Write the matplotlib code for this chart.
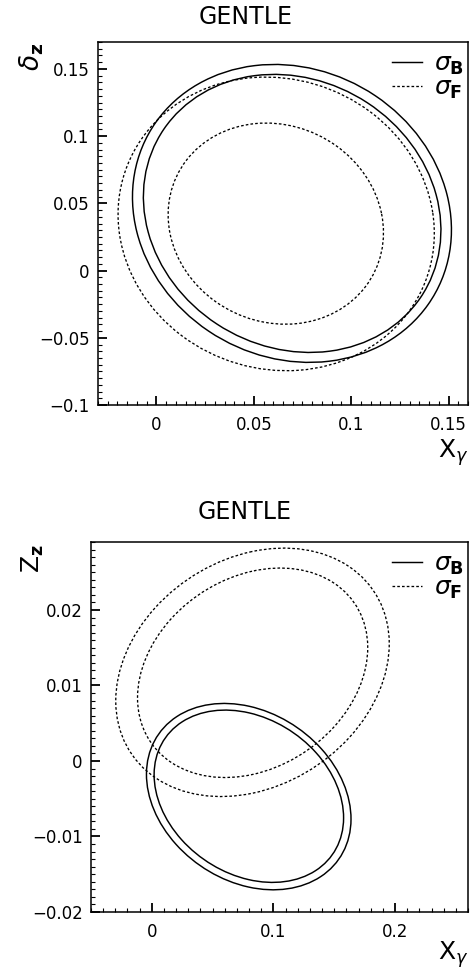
import numpy as np
import matplotlib
matplotlib.use("Agg")
import matplotlib.pyplot as plt
from matplotlib.patches import Ellipse
from matplotlib.lines import Line2D
from matplotlib.ticker import MultipleLocator, FixedLocator

# ---------------------------------------------------------------------------
# Contour data: each contour given by centre, half-extent in x / y and the
# x-y correlation
# ---------------------------------------------------------------------------
# top panel (X_gamma vs delta_z)
top_kind = ["B", "B", "F", "F"]
top_cx   = [0.0696, 0.0697, 0.0615, 0.0613]
top_cy   = [0.0425, 0.0425, 0.0347, 0.0349]
top_hx   = [0.0819, 0.0764, 0.0812, 0.0553]
top_hy   = [0.1108, 0.1034, 0.1092, 0.0748]
top_rho  = [-0.11, -0.12, -0.065, -0.09]

top_xticks = [0.0, 0.05, 0.1, 0.15]
top_xlabels = ["0", "0.05", "0.1", "0.15"]
top_yticks = [-0.1, -0.05, 0.0, 0.05, 0.1, 0.15]
top_ylabels = ["\u22120.1", "\u22120.05", "0", "0.05", "0.1", "0.15"]

# bottom panel (X_gamma vs Z_z)
bot_kind = ["B", "B", "F", "F"]
bot_cx   = [0.0797, 0.0798, 0.0828, 0.0829]
bot_cy   = [-0.00472, -0.00467, 0.01174, 0.01168]
bot_hx   = [0.0841, 0.0779, 0.11245, 0.09465]
bot_hy   = [0.01234, 0.01141, 0.01645, 0.01387]
bot_rho  = [-0.24, -0.25, 0.23, 0.24]

bot_xticks = [0.0, 0.1, 0.2]
bot_xlabels = ["0", "0.1", "0.2"]
bot_yticks = [-0.02, -0.01, 0.0, 0.01, 0.02]
bot_ylabels = ["\u22120.02", "\u22120.01", "0", "0.01", "0.02"]

title = "GENTLE"
legend_labels = {"B": r"$\sigma_{\mathbf{B}}$", "F": r"$\sigma_{\mathbf{F}}$"}

plt.rcParams["font.family"] = "DejaVu Sans"
plt.rcParams["mathtext.fontset"] = "dejavusans"

styles = {
    "B": dict(color="black", linewidth=1.05, linestyle="-"),
    "F": dict(color="black", linewidth=0.95, linestyle=(0, (2.0, 1.6))),
}


def contour_patch(cx, cy, hx, hy, rho, kind):
    cov = np.array([[hx * hx, rho * hx * hy], [rho * hx * hy, hy * hy]])
    vals, vecs = np.linalg.eigh(cov)
    width = 2.0 * np.sqrt(vals[1])
    height = 2.0 * np.sqrt(vals[0])
    angle = np.degrees(np.arctan2(vecs[1, 1], vecs[0, 1]))
    return Ellipse((cx, cy), width, height, angle=angle, fill=False, **styles[kind])


def style_axes(ax, xt, xl, xmin, yt, yl, ymin):
    ax.xaxis.set_major_locator(FixedLocator(xt))
    ax.set_xticklabels(xl)
    ax.yaxis.set_major_locator(FixedLocator(yt))
    ax.set_yticklabels(yl)
    ax.xaxis.set_minor_locator(MultipleLocator(xmin))
    ax.yaxis.set_minor_locator(MultipleLocator(ymin))
    ax.tick_params(which="both", direction="in", top=False, right=False,
                   labelsize=12)
    ax.tick_params(which="major", length=6.5, width=1.3)
    ax.tick_params(which="minor", length=3, width=0.8)
    ax.tick_params(axis="x", pad=8)
    ax.tick_params(axis="y", pad=6)
    for sp in ax.spines.values():
        sp.set_linewidth(1.1)


def add_legend(ax):
    handles = [Line2D([], [], **styles["B"]), Line2D([], [], **styles["F"])]
    ax.legend(handles, [legend_labels["B"], legend_labels["F"]],
              loc="upper right", frameon=False, fontsize=18,
              handlelength=1.2, handletextpad=0.45, labelspacing=-0.05,
              borderaxespad=0.0, bbox_to_anchor=(1.015, 1.0))


fig = plt.figure(figsize=(4.77, 9.72), dpi=100)

# ---------------------------------------------------------------------------
# Top panel
# ---------------------------------------------------------------------------
ax1 = fig.add_axes([98 / 477, 1 - 405 / 972, 370 / 477, 363 / 972])
for cx, cy, hx, hy, r, k in zip(top_cx, top_cy, top_hx, top_hy, top_rho, top_kind):
    ax1.add_patch(contour_patch(cx, cy, hx, hy, r, k))
ax1.set_xlim(-0.03, 0.16)
ax1.set_ylim(-0.1, 0.17)
style_axes(ax1, top_xticks, top_xlabels, 0.005, top_yticks, top_ylabels, 0.005)
add_legend(ax1)
ax1.text(-0.18, 0.997, r"$\delta_{\mathbf{z}}$", rotation=90, fontsize=19,
         ha="center", va="top", transform=ax1.transAxes)
ax1.text(1.0, -0.09, r"$\mathsf{X}_{\gamma}$", fontsize=18,
         ha="right", va="top", transform=ax1.transAxes)
fig.text(246 / 477, 1 - 17 / 972, title, fontsize=17, ha="center", va="center")

# ---------------------------------------------------------------------------
# Bottom panel
# ---------------------------------------------------------------------------
ax2 = fig.add_axes([91 / 477, 1 - 912 / 972, 377 / 477, 370 / 972])
for cx, cy, hx, hy, r, k in zip(bot_cx, bot_cy, bot_hx, bot_hy, bot_rho, bot_kind):
    ax2.add_patch(contour_patch(cx, cy, hx, hy, r, k))
ax2.set_xlim(-0.05, 0.26)
ax2.set_ylim(-0.02, 0.029)
style_axes(ax2, bot_xticks, bot_xlabels, 0.01, bot_yticks, bot_ylabels, 0.001)
add_legend(ax2)
ax2.text(-0.155, 0.995, r"$\mathsf{Z}_{\mathbf{z}}$", rotation=90, fontsize=18,
         ha="center", va="top", transform=ax2.transAxes)
ax2.text(1.0, -0.075, r"$\mathsf{X}_{\gamma}$", fontsize=18,
         ha="right", va="top", transform=ax2.transAxes)
fig.text(245 / 477, 1 - 512 / 972, title, fontsize=17, ha="center", va="center")

fig.savefig("out.png", dpi=100)
